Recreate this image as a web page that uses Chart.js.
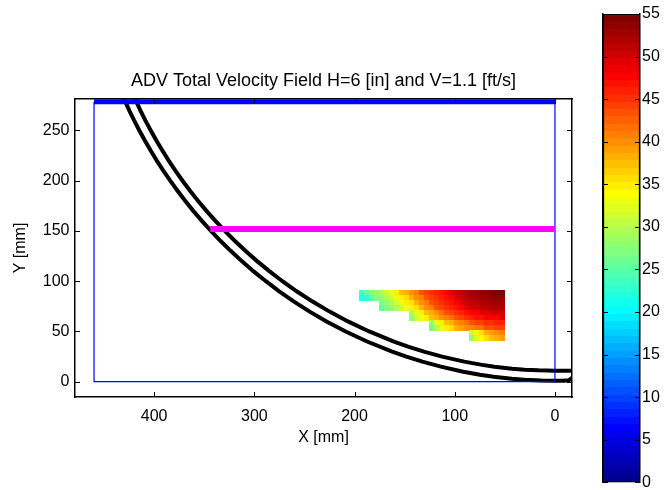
<!DOCTYPE html>
<html lang="en">
<head>
<meta charset="utf-8">
<title>ADV Total Velocity Field</title>
<script src="https://cdn.jsdelivr.net/npm/chart.js"></script>
<style>
  * { margin:0; padding:0; box-sizing:border-box }
  body { background:#fff; width:665px; height:490px; overflow:hidden; position:relative }
  #main { position:absolute; left:0; top:0 }
  #bar  { position:absolute; left:590px; top:0 }
</style>
</head>
<body>
<canvas id="main" width="665" height="490"></canvas>
<canvas id="bar" width="75" height="494"></canvas>
<script>
// ===== DATA =====
const TITLE   = 'ADV Total Velocity Field H=6 [in] and V=1.1 [ft/s]';
const xTicks  = [0, 100, 200, 300, 400];
const yTicks  = [0, 50, 100, 150, 200, 250];
const cbTicks = [0, 5, 10, 15, 20, 25, 30, 35, 40, 45, 50, 55];

// outer wall (lower black curve)
const outerX = [431.6, 424.9, 420.0, 414.8, 409.3, 403.5, 397.4, 390.9, 384.0, 376.7, 369.1, 361.0, 352.4,
                343.3, 333.7, 323.4, 312.6, 301.0, 288.5, 275.2, 260.8, 245.2, 228.0, 208.9, 187.5, 162.5,
                148.3, 132.3, 113.9, 91.5, 74.9, 61.2, 43.3, 30.6, 13.7, 0, -8, -14, -17];
const outerY = [285, 270, 260, 250, 240, 230, 220, 210, 200, 190, 180, 170, 160,
                150, 140, 130, 120, 110, 100, 90, 80, 70, 60, 50, 40, 30,
                25, 20, 15, 10, 7, 5, 3, 2, 1.2, 1, 1, 1.5, 4];

// inner wall (upper black curve)
const innerX = [420.7, 413.8, 408.8, 403.4, 397.8, 391.8, 385.5, 378.8, 371.7, 364.2, 356.3, 347.8, 338.9,
                329.5, 319.4, 308.7, 297.3, 285.1, 272.0, 257.8, 242.3, 225.4, 206.6, 185.4, 160.7, 146.6,
                130.8, 112.6, 90.5, 74.1, 60.5, 42.8, 30.3, 16.6, 0, -17];
const innerY = [285, 270, 260, 250, 240, 230, 220, 210, 200, 190, 180, 170, 160,
                150, 140, 130, 120, 110, 100, 90, 80, 70, 60, 50, 40, 35,
                30, 25, 20, 17, 15, 13, 12, 11.3, 11, 11];

// blue channel box (thin sides) and thick top edge
const boxX = [0, 0, 460, 460];
const boxY = [278.5, 0, 0, 278.5];
const topX = [460, 0];
const topY = [278.5, 278.5];

// magenta traverse line
const magX = [344, 0];
const magY = [152, 152];

// velocity patch: cell centres and values (null = no data)
const patchX = [192.5, 187.5, 182.5, 177.5, 172.5, 167.5, 162.5, 157.5, 152.5, 147.5, 142.5, 137.5, 132.5, 127.5,
                122.5, 117.5, 112.5, 107.5, 102.5, 97.5, 92.5, 87.5, 82.5, 77.5, 72.5, 67.5, 62.5, 57.5, 52.5];
const patchY = [88.5, 83.5, 78.5, 73.5, 68.5, 63.5, 58.5, 53.5, 48.5, 43.5];
const patchV = [
  [24,25,27,28,30,31,33,35,37,38,40,41,43,44,45,46,47,48,49,50,51,52,53,53,54,54,55,55,55],
  [22,23,25,27,28,30,31,33,35,36,38,40,41,43,44,45,46,47,48,49,50,51,52,52,53,53,54,54,54],
  [null,null,null,null,27,28,30,31,33,35,36,38,40,41,43,44,45,46,47,48,49,50,51,51,52,52,53,53,53],
  [null,null,null,null,25,27,28,30,31,33,35,36,38,40,41,43,44,45,46,47,48,49,50,50,51,51,52,52,52],
  [null,null,null,null,null,null,null,null,null,null,30,33,35,37,38,40,42,43,44,45,46,47,48,48,49,49,50,50,50],
  [null,null,null,null,null,null,null,null,null,null,27,31,33,35,37,38,40,41,42,43,44,45,46,47,47,48,48,48,49],
  [null,null,null,null,null,null,null,null,null,null,null,null,null,null,29,33,35,37,38,40,41,42,43,44,44,45,45,46,46],
  [null,null,null,null,null,null,null,null,null,null,null,null,null,null,26,30,33,35,36,38,39,40,41,42,42,43,43,44,44],
  [null,null,null,null,null,null,null,null,null,null,null,null,null,null,null,null,null,null,null,null,null,null,31,34,36,38,39,40,41],
  [null,null,null,null,null,null,null,null,null,null,null,null,null,null,null,null,null,null,null,null,null,null,28,32,34,36,37,38,39]
];

// ===== HELPERS =====
const FONT = '"Liberation Sans", Arial, Helvetica, sans-serif';
Chart.defaults.font.family = FONT;
Chart.defaults.font.size = 16;
Chart.defaults.color = '#000';

const cbMax = cbTicks[cbTicks.length - 1];
const NCOL = 64;
const TICK = 5;

// MATLAB jet colormap, 64 levels
function jetIdx(k) {
  const t = (k + 1) / NCOL;
  const f = d => Math.round(255 * Math.max(0, Math.min(1, 1.5 - Math.abs(4 * t - d))));
  return `rgb(${f(3)},${f(2)},${f(1)})`;
}
function jet(v) {
  const k = Math.min(NCOL - 1, Math.max(0, Math.floor(v / cbMax * NCOL)));
  return jetIdx(k);
}

const pts = (xs, ys) => xs.map((x, i) => ({ x, y: ys[i] }));
const setTicks = arr => s => { s.ticks = arr.map(v => ({ value: v })); };

const frame  = { display: true, color: '#000', width: 1.5 };
const noGrid = { display: false, drawTicks: false, tickLength: 0 };

// matlab style ticks: short marks pointing into the plot box, on every side
const inTicksPlugin = {
  id: 'inTicks',
  afterDraw(chart) {
    const { ctx, chartArea: a } = chart;
    ctx.save();
    ctx.strokeStyle = '#000';
    ctx.lineWidth = 1;
    Object.values(chart.scales).forEach(s => {
      if (!s.options.display) return;
      s.ticks.forEach(t => {
        const p = Math.round(s.getPixelForValue(t.value)) + 0.5;
        ctx.beginPath();
        if (s.position === 'bottom') { ctx.moveTo(p, a.bottom); ctx.lineTo(p, a.bottom - TICK); }
        else if (s.position === 'top') { ctx.moveTo(p, a.top); ctx.lineTo(p, a.top + TICK); }
        else if (s.position === 'left') { ctx.moveTo(a.left, p); ctx.lineTo(a.left + TICK, p); }
        else { ctx.moveTo(a.right, p); ctx.lineTo(a.right - TICK, p); }
        ctx.stroke();
      });
    });
    ctx.restore();
  }
};

// filled velocity cells, drawn under the lines
const patchPlugin = {
  id: 'patch',
  beforeDatasetsDraw(chart) {
    const { ctx, scales: { x, y } } = chart;
    const hx = Math.abs(patchX[1] - patchX[0]) / 2;
    const hy = Math.abs(patchY[1] - patchY[0]) / 2;
    ctx.save();
    patchV.forEach((row, r) => {
      row.forEach((v, c) => {
        if (v === null) return;
        const xa = x.getPixelForValue(patchX[c] + hx), xb = x.getPixelForValue(patchX[c] - hx);
        const ya = y.getPixelForValue(patchY[r] + hy), yb = y.getPixelForValue(patchY[r] - hy);
        const l = Math.floor(Math.min(xa, xb)), t = Math.floor(Math.min(ya, yb));
        ctx.fillStyle = jet(v);
        ctx.fillRect(l, t, Math.ceil(Math.max(xa, xb)) - l, Math.ceil(Math.max(ya, yb)) - t);
      });
    });
    ctx.restore();
  }
};

// ===== MAIN PLOT =====
const lineDs = (xs, ys, color, width) => ({
  data: pts(xs, ys), showLine: true, borderColor: color, borderWidth: width,
  pointRadius: 0, tension: 0, clip: 0, fill: false
});

new Chart(document.getElementById('main'), {
  type: 'scatter',
  data: {
    datasets: [
      lineDs(topX, topY, '#0000ff', 5),
      lineDs(magX, magY, '#ff00ff', 6),
      lineDs(boxX, boxY, '#0000ff', 1.2),
      lineDs(innerX, innerY, '#000', 4),
      lineDs(outerX, outerY, '#000', 4)
    ]
  },
  options: {
    responsive: false, animation: false,
    layout: { padding: 0 },
    plugins: { legend: { display: false }, tooltip: { enabled: false }, title: { display: false } },
    scales: {
      x: {
        type: 'linear', position: 'bottom', min: -17, max: 479, reverse: true,
        afterBuildTicks: setTicks(xTicks), afterFit: s => { s.height = 93; },
        ticks: { padding: 10, maxRotation: 0 },
        grid: noGrid, border: frame,
        title: { display: true, text: 'X [mm]', padding: { top: 0, bottom: 43 } }
      },
      x2: {
        type: 'linear', position: 'top', min: -17, max: 479, reverse: true,
        afterBuildTicks: setTicks(xTicks), afterFit: s => { s.height = 99; },
        ticks: { display: false },
        grid: noGrid, border: frame,
        title: { display: true, text: TITLE, font: { size: 18 }, padding: { top: 70, bottom: 0 } }
      },
      y: {
        type: 'linear', position: 'left', min: -15.2, max: 281.3,
        afterBuildTicks: setTicks(yTicks), afterFit: s => { s.width = 75; },
        ticks: { padding: 5.5 },
        grid: noGrid, border: frame,
        title: { display: true, text: 'Y [mm]', padding: { top: 11, bottom: 0 } }
      },
      y2: {
        type: 'linear', position: 'right', min: -15.2, max: 281.3,
        afterBuildTicks: setTicks(yTicks), afterFit: s => { s.width = 93; },
        ticks: { display: false },
        grid: noGrid, border: frame
      }
    }
  },
  plugins: [patchPlugin, inTicksPlugin]
});

// ===== COLORBAR =====
function jetGradient(context) {
  const { chart } = context;
  const area = chart.chartArea;
  if (!area) return '#000080';
  const g = chart.ctx.createLinearGradient(0, area.bottom, 0, area.top);
  for (let k = 0; k < NCOL; k++) {
    const c = jetIdx(k);
    g.addColorStop(k / NCOL, c);
    g.addColorStop((k + 1) / NCOL, c);
  }
  return g;
}

new Chart(document.getElementById('bar'), {
  type: 'bar',
  data: {
    labels: [''],
    datasets: [{
      data: [cbMax], backgroundColor: jetGradient, borderColor: '#000', borderWidth: 1.5,
      borderSkipped: false, barPercentage: 1, categoryPercentage: 1
    }]
  },
  options: {
    responsive: false, animation: false,
    layout: { padding: { top: 14, bottom: 11, left: 0, right: 0 } },
    plugins: { legend: { display: false }, tooltip: { enabled: false } },
    scales: {
      x: { display: false },
      y: {
        position: 'right', min: 0, max: cbMax,
        afterBuildTicks: setTicks(cbTicks), afterFit: s => { s.width = 25; },
        ticks: { padding: 2 },
        grid: noGrid, border: frame
      },
      y2: {
        position: 'left', min: 0, max: cbMax,
        afterBuildTicks: setTicks(cbTicks), afterFit: s => { s.width = 13; },
        ticks: { display: false },
        grid: noGrid, border: frame
      }
    }
  },
  plugins: [inTicksPlugin]
});
</script>
</body>
</html>
